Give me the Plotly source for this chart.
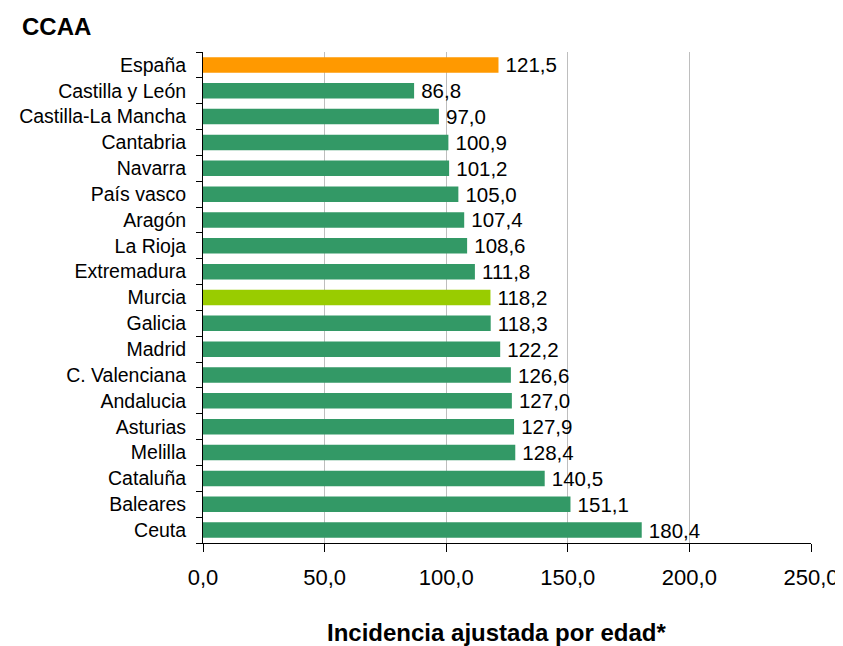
import plotly.graph_objects as go

categories = ["España", "Castilla y León", "Castilla-La Mancha", "Cantabria", "Navarra",
              "País vasco", "Aragón", "La Rioja", "Extremadura", "Murcia", "Galicia",
              "Madrid", "C. Valenciana", "Andalucia", "Asturias", "Melilla", "Cataluña",
              "Baleares", "Ceuta"]
values = [121.5, 86.8, 97.0, 100.9, 101.2, 105.0, 107.4, 108.6, 111.8, 118.2, 118.3,
          122.2, 126.6, 127.0, 127.9, 128.4, 140.5, 151.1, 180.4]
tick_values = [0, 50, 100, 150, 200, 250]

GREEN = "#339966"
ORANGE = "#FF9900"
LIME = "#99CC00"
colors = [ORANGE if c == "España" else LIME if c == "Murcia" else GREEN for c in categories]
labels = ["\u2009" + f"{v:.1f}".replace(".", ",") for v in values]

FONT = "Liberation Sans, Arial, sans-serif"

# page body has an 8px default margin: figure is sized/offset to compensate
W, H = 835, 638
L, R, T, B = 195, 32, 44, 103
PW, PH = W - L - R, H - T - B

fig = go.Figure(go.Bar(
    x=values, y=categories, orientation="h",
    marker=dict(color=colors, line=dict(width=0)),
    width=0.6,
    text=labels, textposition="outside", cliponaxis=False, constraintext="none",
    textfont=dict(size=20.5, color="black", family=FONT),
    hoverinfo="skip",
))

fig.update_layout(
    width=W, height=H,
    margin=dict(l=L, r=R, t=T, b=B, autoexpand=False),
    plot_bgcolor="white", paper_bgcolor="white",
    font=dict(family=FONT, color="black"),
    separators=",.",
    showlegend=False,
    xaxis=dict(
        range=[0, 250], tickvals=tick_values, tickformat=".1f",
        showgrid=True, gridcolor="#BEBEBE", gridwidth=1, zeroline=False,
        showline=True, linecolor="black", linewidth=1,
        ticks="outside", ticklen=8, tickcolor="black",
        tickfont=dict(size=22), ticklabelstandoff=7,
        automargin=False,
    ),
    yaxis=dict(
        categoryorder="array", categoryarray=categories[::-1],
        range=[-0.5, len(categories) - 0.5],
        showline=True, linecolor="black", linewidth=1,
        ticks="outside", ticklen=6, tickcolor="black", tickson="boundaries",
        tickfont=dict(size=19.5), ticklabelstandoff=12,
        showgrid=False, automargin=False,
    ),
    annotations=[
        dict(text="<b>CCAA</b>", xref="paper", yref="paper",
             x=(12 - L) / PW, y=1 + (T - 19) / PH,
             xanchor="left", yanchor="middle",
             showarrow=False, font=dict(size=24)),
        dict(text="<b>Incidencia ajustada por edad*</b>", xref="paper", yref="paper",
             x=(488 - L) / PW, y=-(624 - (T + PH)) / PH,
             xanchor="center", yanchor="middle",
             showarrow=False, font=dict(size=24)),
    ],
)

fig.write_html("out.html")
